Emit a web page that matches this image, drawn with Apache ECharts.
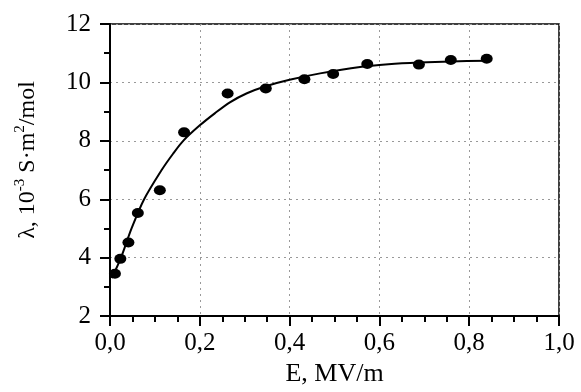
<!DOCTYPE html>
<html>
<head>
<meta charset="utf-8">
<script src="https://cdn.jsdelivr.net/npm/echarts@6/dist/echarts.min.js"></script>
<style>
  html, body { margin: 0; padding: 0; background: #fff; }
  #chart { width: 581px; height: 392px; }
</style>
</head>
<body>
<div id="chart"></div>
<script>
// measured points
const fieldE = [0.011, 0.023, 0.041, 0.062, 0.111, 0.165, 0.262, 0.347, 0.433, 0.497, 0.573, 0.688, 0.759, 0.839];
const lambdaVals = [3.45, 3.96, 4.52, 5.53, 6.31, 8.29, 9.62, 9.79, 10.11, 10.29, 10.63, 10.61, 10.77, 10.81];

// fitted curve
const fitE = [0.004, 0.0245, 0.048, 0.076, 0.115, 0.14, 0.163, 0.2, 0.234, 0.267, 0.305, 0.347, 0.4, 0.468, 0.557, 0.62, 0.688, 0.76, 0.84];
const fitLambda = [3.3, 4.0, 5.0, 6.0, 7.0, 7.55, 8.0, 8.53, 8.95, 9.32, 9.63, 9.87, 10.09, 10.31, 10.53, 10.62, 10.68, 10.72, 10.74];

const xTicks = [0, 0.2, 0.4, 0.6, 0.8, 1.0];
const yTicks = [2, 4, 6, 8, 10, 12];

const serif = '"Liberation Serif", "DejaVu Serif", serif';

const chart = echarts.init(document.getElementById('chart'));

const pts = fieldE.map((e, i) => [e, lambdaVals[i]]);
const fit = fitE.map((e, i) => [e, fitLambda[i]]);

const option = {
    animation: false,
    backgroundColor: '#fff',
    grid: {
        left: 110,
        right: 22,
        top: 24,
        bottom: 66,
        show: true,
        borderColor: '#000',
        borderWidth: 1.5
    },
    xAxis: {
        type: 'value',
        min: xTicks[0],
        max: xTicks[xTicks.length - 1],
        interval: 0.2,
        name: 'E, MV/m',
        nameLocation: 'middle',
        nameGap: 42,
        nameTextStyle: {fontFamily: serif, fontSize: 26, color: '#000'},
        axisLine: {onZero: false, lineStyle: {color: '#000', width: 2}},
        axisTick: {length: 10, lineStyle: {color: '#000', width: 2}},
        minorTick: {show: true, splitNumber: 4, length: 6, lineStyle: {color: '#000', width: 2}},
        axisLabel: {
            margin: 15,
            fontFamily: serif,
            fontSize: 25,
            color: '#000',
            formatter: v => v.toFixed(1).replace('.', ',')
        },
        splitLine: {show: true, lineStyle: {color: '#999', type: [2, 4], width: 1}}
    },
    yAxis: {
        type: 'value',
        min: yTicks[0],
        max: yTicks[yTicks.length - 1],
        interval: 2,
        axisLine: {show: true, onZero: false, lineStyle: {color: '#000', width: 2}},
        axisTick: {show: true, length: 10, lineStyle: {color: '#000', width: 2}},
        minorTick: {show: true, splitNumber: 2, length: 6, lineStyle: {color: '#000', width: 2}},
        axisLabel: {margin: 19, fontFamily: serif, fontSize: 25, color: '#000'},
        splitLine: {show: true, lineStyle: {color: '#999', type: [2, 4], width: 1}}
    },
    graphic: [{
        type: 'text',
        x: 28,
        y: 160,
        rotation: Math.PI / 2,
        style: {
            text: '{a|λ, 10}{s|-3}{a| S·m}{s|2}{a|/mol}',
            align: 'center',
            verticalAlign: 'middle',
            fill: '#000',
            rich: {
                a: {fontFamily: serif, fontSize: 24, lineHeight: 30, fill: '#000'},
                s: {fontFamily: serif, fontSize: 15, lineHeight: 16, verticalAlign: 'top', fill: '#000'}
            }
        }
    }],
    series: [
        {
            name: 'fit',
            type: 'line',
            data: fit,
            smooth: 0.3,
            showSymbol: false,
            lineStyle: {color: '#000', width: 2},
            z: 2
        },
        {
            name: 'data',
            type: 'scatter',
            data: pts,
            symbol: 'circle',
            symbolSize: [12, 10],
            itemStyle: {color: '#000', opacity: 1},
            z: 3
        }
    ]
};

chart.setOption(option);
</script>
</body>
</html>
